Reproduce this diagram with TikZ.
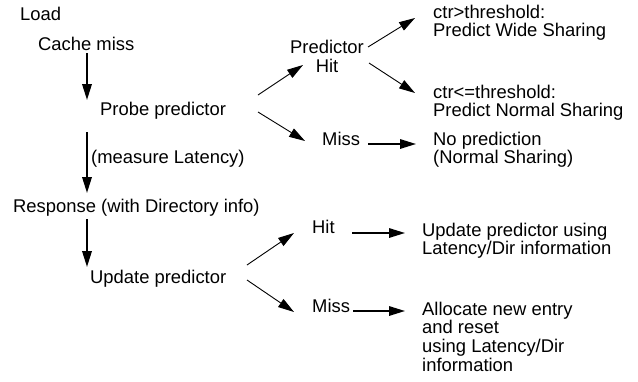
\documentclass[tikz,border=0pt]{standalone}
\usepackage{fontspec}
\setmainfont{Liberation Sans}
\usetikzlibrary{arrows.meta}
\newcommand{\mlines}[2][l]{\begin{tabular}[t]{@{}#1@{}}#2\end{tabular}}
\begin{document}
\begin{tikzpicture}[x=1pt,y=-1pt,
  lbl/.style={anchor=base west, inner sep=0pt, font=\fontsize{18.4}{18.5}\selectfont},
  tip/.style={-{Triangle[length=16pt,width=9.5pt]}},
  vline/.style={tip, line width=1.9pt},
  dline/.style={tip, line width=0.9pt},
  hline/.style={tip, line width=1.6pt}]
\useasboundingbox (0,0) rectangle (638,381);
% left column
\node[lbl] (load) at (20,20) {Load};
\node[lbl] (cm) at (38,50) {Cache miss};
\node[lbl] (probe) at (100,115) {Probe predictor};
\node[lbl] (meas) at (91,163) {(measure Latency)};
\node[lbl] (resp) at (13,212) {Response (with Directory info)};
\node[lbl] (upd) at (90,283) {Update predictor};
% top right
\node[lbl, anchor=base] (ph) at (327,53) {\renewcommand{\arraystretch}{1.05}\mlines[c]{Predictor\\Hit}};
\node[lbl] (pmiss) at (322,145) {Miss};
\node[lbl] (wide) at (433,18) {\mlines{ctr>threshold:\\Predict Wide Sharing}};
\node[lbl] (norm) at (433,98) {\mlines{ctr<=threshold:\\Predict Normal Sharing}};
\node[lbl] (nopred) at (433,145) {\mlines{No prediction\\(Normal Sharing)}};
% bottom right
\node[lbl] (uhit) at (312,233) {Hit};
\node[lbl] (umiss) at (312,312) {Miss};
\node[lbl] (uupd) at (422,236) {\mlines{Update predictor using\\Latency/Dir information}};
\node[lbl] (alloc) at (422,315) {\mlines{Allocate new entry\\and reset\\using Latency/Dir\\information}};
% connector end points
\coordinate (a1s) at (87,53);  \coordinate (a1e) at (87,100);
\coordinate (a2s) at (87,132); \coordinate (a2e) at (87,193);
\coordinate (a3s) at (87,219); \coordinate (a3e) at (87,267);
\coordinate (p1s) at (258,95);  \coordinate (p1e) at (303,65);
\coordinate (p2s) at (258,112); \coordinate (p2e) at (305,141);
\coordinate (h1s) at (368,47);  \coordinate (h1e) at (415,18);
\coordinate (h2s) at (369,63);  \coordinate (h2e) at (415,93);
\coordinate (m1s) at (368,144); \coordinate (m1e) at (416,144);
\coordinate (u1s) at (247,265); \coordinate (u1e) at (294,233);
\coordinate (u2s) at (247,280); \coordinate (u2e) at (294,312);
\coordinate (uh1s) at (352,233); \coordinate (uh1e) at (405,233);
\coordinate (um1s) at (353,311); \coordinate (um1e) at (405,311);
% connectors
\draw[vline] (a1s) -- (a1e);
\draw[vline] (a2s) -- (a2e);
\draw[vline] (a3s) -- (a3e);
\draw[dline] (p1s) -- (p1e);
\draw[dline] (p2s) -- (p2e);
\draw[dline] (h1s) -- (h1e);
\draw[dline] (h2s) -- (h2e);
\draw[hline] (m1s) -- (m1e);
\draw[dline] (u1s) -- (u1e);
\draw[dline] (u2s) -- (u2e);
\draw[hline] (uh1s) -- (uh1e);
\draw[hline] (um1s) -- (um1e);
\end{tikzpicture}
\end{document}
